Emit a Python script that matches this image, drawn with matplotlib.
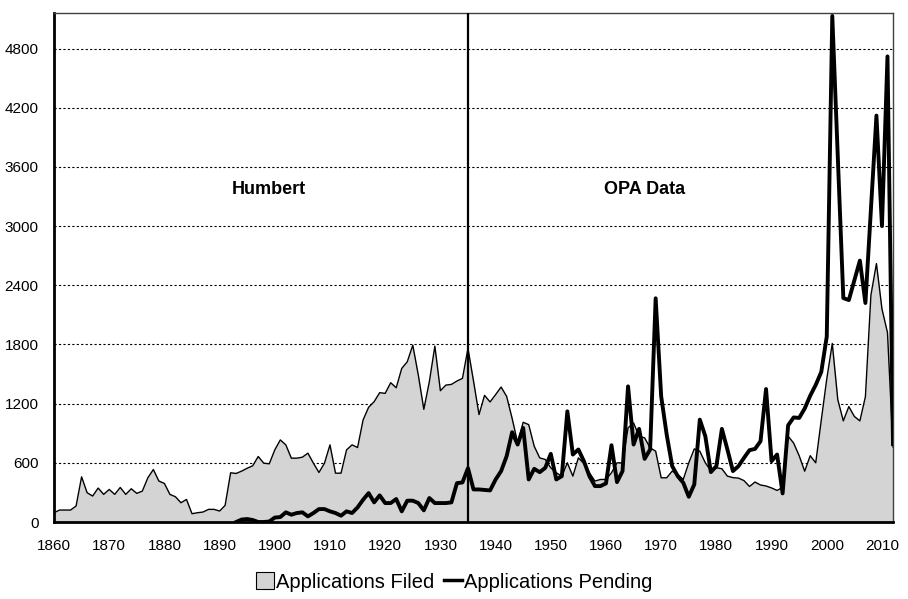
import numpy as np
import matplotlib
matplotlib.use('Agg')
import matplotlib.pyplot as plt
from matplotlib.patches import Patch
from matplotlib.lines import Line2D

plt.rcParams['font.family'] = ['Liberation Sans', 'DejaVu Sans']

years = list(range(1860, 2013))

# Applications Filed, 1860-2012
filed = [94, 121, 121, 121, 162, 458, 297, 263, 344, 280,
         330, 280, 350, 280, 337, 290, 313, 448, 532, 415,
         391, 280, 256, 195, 229, 84, 94, 101, 128, 128,
         111, 168, 499, 492, 516, 545, 570, 664, 596, 590,
         731, 832, 782, 647, 647, 657, 698, 596, 502, 596,
         782, 495, 495, 731, 782, 755, 1035, 1163, 1220, 1311,
         1304, 1412, 1361, 1557, 1624, 1793, 1490, 1142, 1422, 1783,
         1331, 1388, 1395, 1429, 1456, 1759, 1430, 1089, 1284, 1217,
         1291, 1368, 1274, 1050, 802, 1011, 987, 768, 650, 634,
         549, 499, 465, 600, 465, 650, 593, 499, 415, 431,
         431, 499, 600, 600, 954, 1004, 869, 853, 752, 718,
         448, 448, 516, 482, 431, 600, 741, 718, 600, 520,
         550, 540, 465, 450, 445, 420, 360, 405, 375, 365,
         345, 320, 350, 870, 800, 672, 515, 672, 600, 1030,
         1450, 1810, 1240, 1025, 1170, 1070, 1025, 1270, 2300, 2620,
         2160, 1920, 760]

# Applications Pending, 1893-2012 (no data before)
pending_years = list(range(1893, 2013))
pending = [0, 25, 30, 20, 0, 0, 5,
           45, 50, 98, 74, 91, 98, 57, 91, 131, 131,
           108, 91, 64, 108, 91, 148, 226, 293, 199, 270,
           192, 192, 233, 108, 216, 216, 192, 118, 243, 192,
           192, 192, 199, 394, 401, 546, 330, 330, 325, 320,
           430, 516, 667, 910, 785, 954, 431, 539, 505, 549,
           691, 431, 465, 1122, 684, 735, 617, 465, 364, 364,
           391, 778, 404, 516, 1375, 785, 944, 640, 735, 2268,
           1274, 886, 566, 465, 398, 256, 381, 1038, 869, 506,
           566, 944, 735, 516, 566, 650, 728, 741, 819, 1348,
           617, 684, 290, 980, 1060, 1055, 1150, 1280, 1390, 1520,
           1880, 5130, 3700, 2270, 2250, 2450, 2650, 2220, 3170, 4120,
           3000, 4720, 790]

fig = plt.figure(figsize=(9.08, 5.99), dpi=100)
ax = fig.add_axes([54/908, 1 - 522/599, (893 - 54)/908, (522 - 13)/599])

ax.fill_between(years, filed, color='#d4d4d4', lw=0, zorder=1)
ax.plot(years, filed, color='black', lw=1, zorder=2)
ax.plot(pending_years, pending, color='black', lw=2.8, zorder=3)
ax.axvline(1935, color='black', lw=1.6, zorder=4)

ax.set_xlim(1860, 2012)
ax.set_ylim(0, 5160)
ax.set_xticks(range(1860, 2011, 10))
ax.set_yticks(range(0, 4801, 600))
for v in range(600, 4801, 600):
    ax.axhline(v, color='black', lw=0.8, ls=(0, (2, 2)), zorder=0)

ax.tick_params(length=0, labelsize=11)
ax.tick_params(axis='y', pad=11)
ax.tick_params(axis='x', pad=12)

for s in ['left', 'bottom']:
    ax.spines[s].set_linewidth(2)
    ax.spines[s].set_color('black')
for s in ['top', 'right']:
    ax.spines[s].set_linewidth(1)
    ax.spines[s].set_color('#404040')

ax.text(1899, 3370, 'Humbert', ha='center', va='center',
        fontsize=13, fontweight='bold')
ax.text(1967, 3370, 'OPA Data', ha='center', va='center',
        fontsize=13, fontweight='bold')

handles = [Patch(facecolor='#d4d4d4', edgecolor='black', lw=0.8),
           Line2D([], [], color='black', lw=2.5)]
fig.legend(handles, ['Applications Filed', 'Applications Pending'],
           loc='center', bbox_to_anchor=(0.5, 1 - 582/599), ncol=2,
           frameon=False, fontsize=14.5, handlelength=0.9,
           handleheight=0.9, handletextpad=0.1, columnspacing=0.5)

fig.savefig('out.png', dpi=100)
